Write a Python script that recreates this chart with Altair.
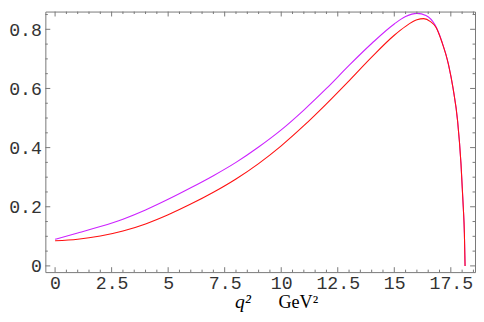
import altair as alt
import pandas as pd
import numpy as np

# ---- data ----
q_magenta = [0, 1, 2, 3, 4, 5, 6, 7, 8, 9, 10, 11, 12, 13, 14, 15, 15.5, 16.0, 16.4, 16.8,
             17.1, 17.4, 17.6, 17.8, 17.95, 18.05, 18.1, 18.13]
v_magenta = [0.090, 0.111, 0.133, 0.158, 0.189, 0.225, 0.264, 0.305, 0.350, 0.402, 0.460,
             0.527, 0.600, 0.678, 0.752, 0.818, 0.843, 0.854, 0.847, 0.815,
             0.760, 0.680, 0.600, 0.490, 0.345, 0.200, 0.110, 0.0]

q_red = [0, 1, 2, 3, 4, 5, 6, 7, 8, 9, 10, 11, 12, 13, 14, 15, 15.5, 16.0, 16.3, 16.6, 16.85,
         17.1, 17.4, 17.6, 17.8, 17.95, 18.05, 18.1, 18.13]
v_red = [0.085, 0.090, 0.101, 0.118, 0.142, 0.173, 0.209, 0.249, 0.294, 0.346, 0.406,
         0.474, 0.548, 0.626, 0.706, 0.780, 0.810, 0.832, 0.836, 0.826, 0.806,
         0.758, 0.680, 0.600, 0.490, 0.345, 0.200, 0.110, 0.0]

series_names = ["upper", "lower"]
series_colors = ["#CC22FF", "#FF1010"]

x_major = [0, 2.5, 5, 7.5, 10, 12.5, 15, 17.5]
x_minor = [t for t in np.arange(0, 18.51, 0.5).round(2).tolist() if t not in x_major]
y_major = [0, 0.2, 0.4, 0.6, 0.8]
y_minor = [t for t in np.arange(0, 0.851, 0.05).round(2).tolist() if t not in y_major]

x_domain = [-0.43, 18.57]
y_domain = [-0.021, 0.860]

W, H = 437, 265
MAJ, MIN = 5, 2.5
FRAME = "#777777"

df = pd.concat([
    pd.DataFrame({"q": q_magenta, "v": v_magenta, "s": series_names[0]}),
    pd.DataFrame({"q": q_red, "v": v_red, "s": series_names[1]}),
])

xs = alt.Scale(domain=x_domain, nice=False, zero=False)
ys = alt.Scale(domain=y_domain, nice=False, zero=False)

x_axis = alt.Axis(
    values=x_major, title=None, grid=False, ticks=False, domain=False,
    labelFont="Liberation Mono", labelFontSize=18.5, labelColor="#333333",
    labelPadding=2, labelExpr="format(datum.value, '~g')", labelFlush=False)
y_axis = alt.Axis(
    values=y_major, title=None, grid=False, ticks=False, domain=False,
    labelFont="Liberation Mono", labelFontSize=18.5, labelColor="#333333",
    labelPadding=4, minExtent=37, maxExtent=37, labelFlush=False,
    labelExpr="datum.value == 0 ? '0' : format(datum.value, '.1f')")

lines = alt.Chart(df).mark_line(strokeWidth=1.1, interpolate="monotone", clip=True).encode(
    x=alt.X("q:Q", scale=xs, axis=x_axis),
    y=alt.Y("v:Q", scale=ys, axis=y_axis),
    color=alt.Color("s:N", scale=alt.Scale(domain=series_names, range=series_colors), legend=None),
    detail="s:N",
)

def xticks(vals, length):
    d = pd.DataFrame({"t": vals})
    bot = alt.Chart(d).mark_rule(color=FRAME, strokeWidth=1).encode(
        x=alt.X("t:Q", scale=xs, axis=x_axis), y=alt.value(H), y2=alt.value(H - length))
    top = alt.Chart(d).mark_rule(color=FRAME, strokeWidth=1).encode(
        x=alt.X("t:Q", scale=xs, axis=x_axis), y=alt.value(0), y2=alt.value(length))
    return [bot, top]

def yticks(vals, length):
    d = pd.DataFrame({"t": vals})
    left = alt.Chart(d).mark_rule(color=FRAME, strokeWidth=1).encode(
        y=alt.Y("t:Q", scale=ys, axis=y_axis), x=alt.value(0), x2=alt.value(length))
    right = alt.Chart(d).mark_rule(color=FRAME, strokeWidth=1).encode(
        y=alt.Y("t:Q", scale=ys, axis=y_axis), x=alt.value(W), x2=alt.value(W - length))
    return [left, right]

title_q = alt.Chart(pd.DataFrame({"t": ["q²"]})).mark_text(
    font="Liberation Serif", fontSize=20, fontStyle="italic", align="left",
    baseline="alphabetic", color="#000000").encode(
    text="t:N", x=alt.value(193), y=alt.value(302))
title_u = alt.Chart(pd.DataFrame({"t": ["GeV²"]})).mark_text(
    font="Liberation Serif", fontSize=18.5, align="left",
    baseline="alphabetic", color="#000000").encode(
    text="t:N", x=alt.value(237), y=alt.value(302))

layers = [lines] + xticks(x_major, MAJ) + xticks(x_minor, MIN) + yticks(y_major, MAJ) + yticks(y_minor, MIN) + [title_q, title_u]

chart = alt.layer(*layers).properties(
    width=W, height=H, padding={"left": 0, "top": 0, "right": 0, "bottom": 0},
    background="white",
).configure_view(stroke=FRAME, strokeWidth=1)

chart.save("out.html", embed_options={"renderer": "svg", "actions": False})
